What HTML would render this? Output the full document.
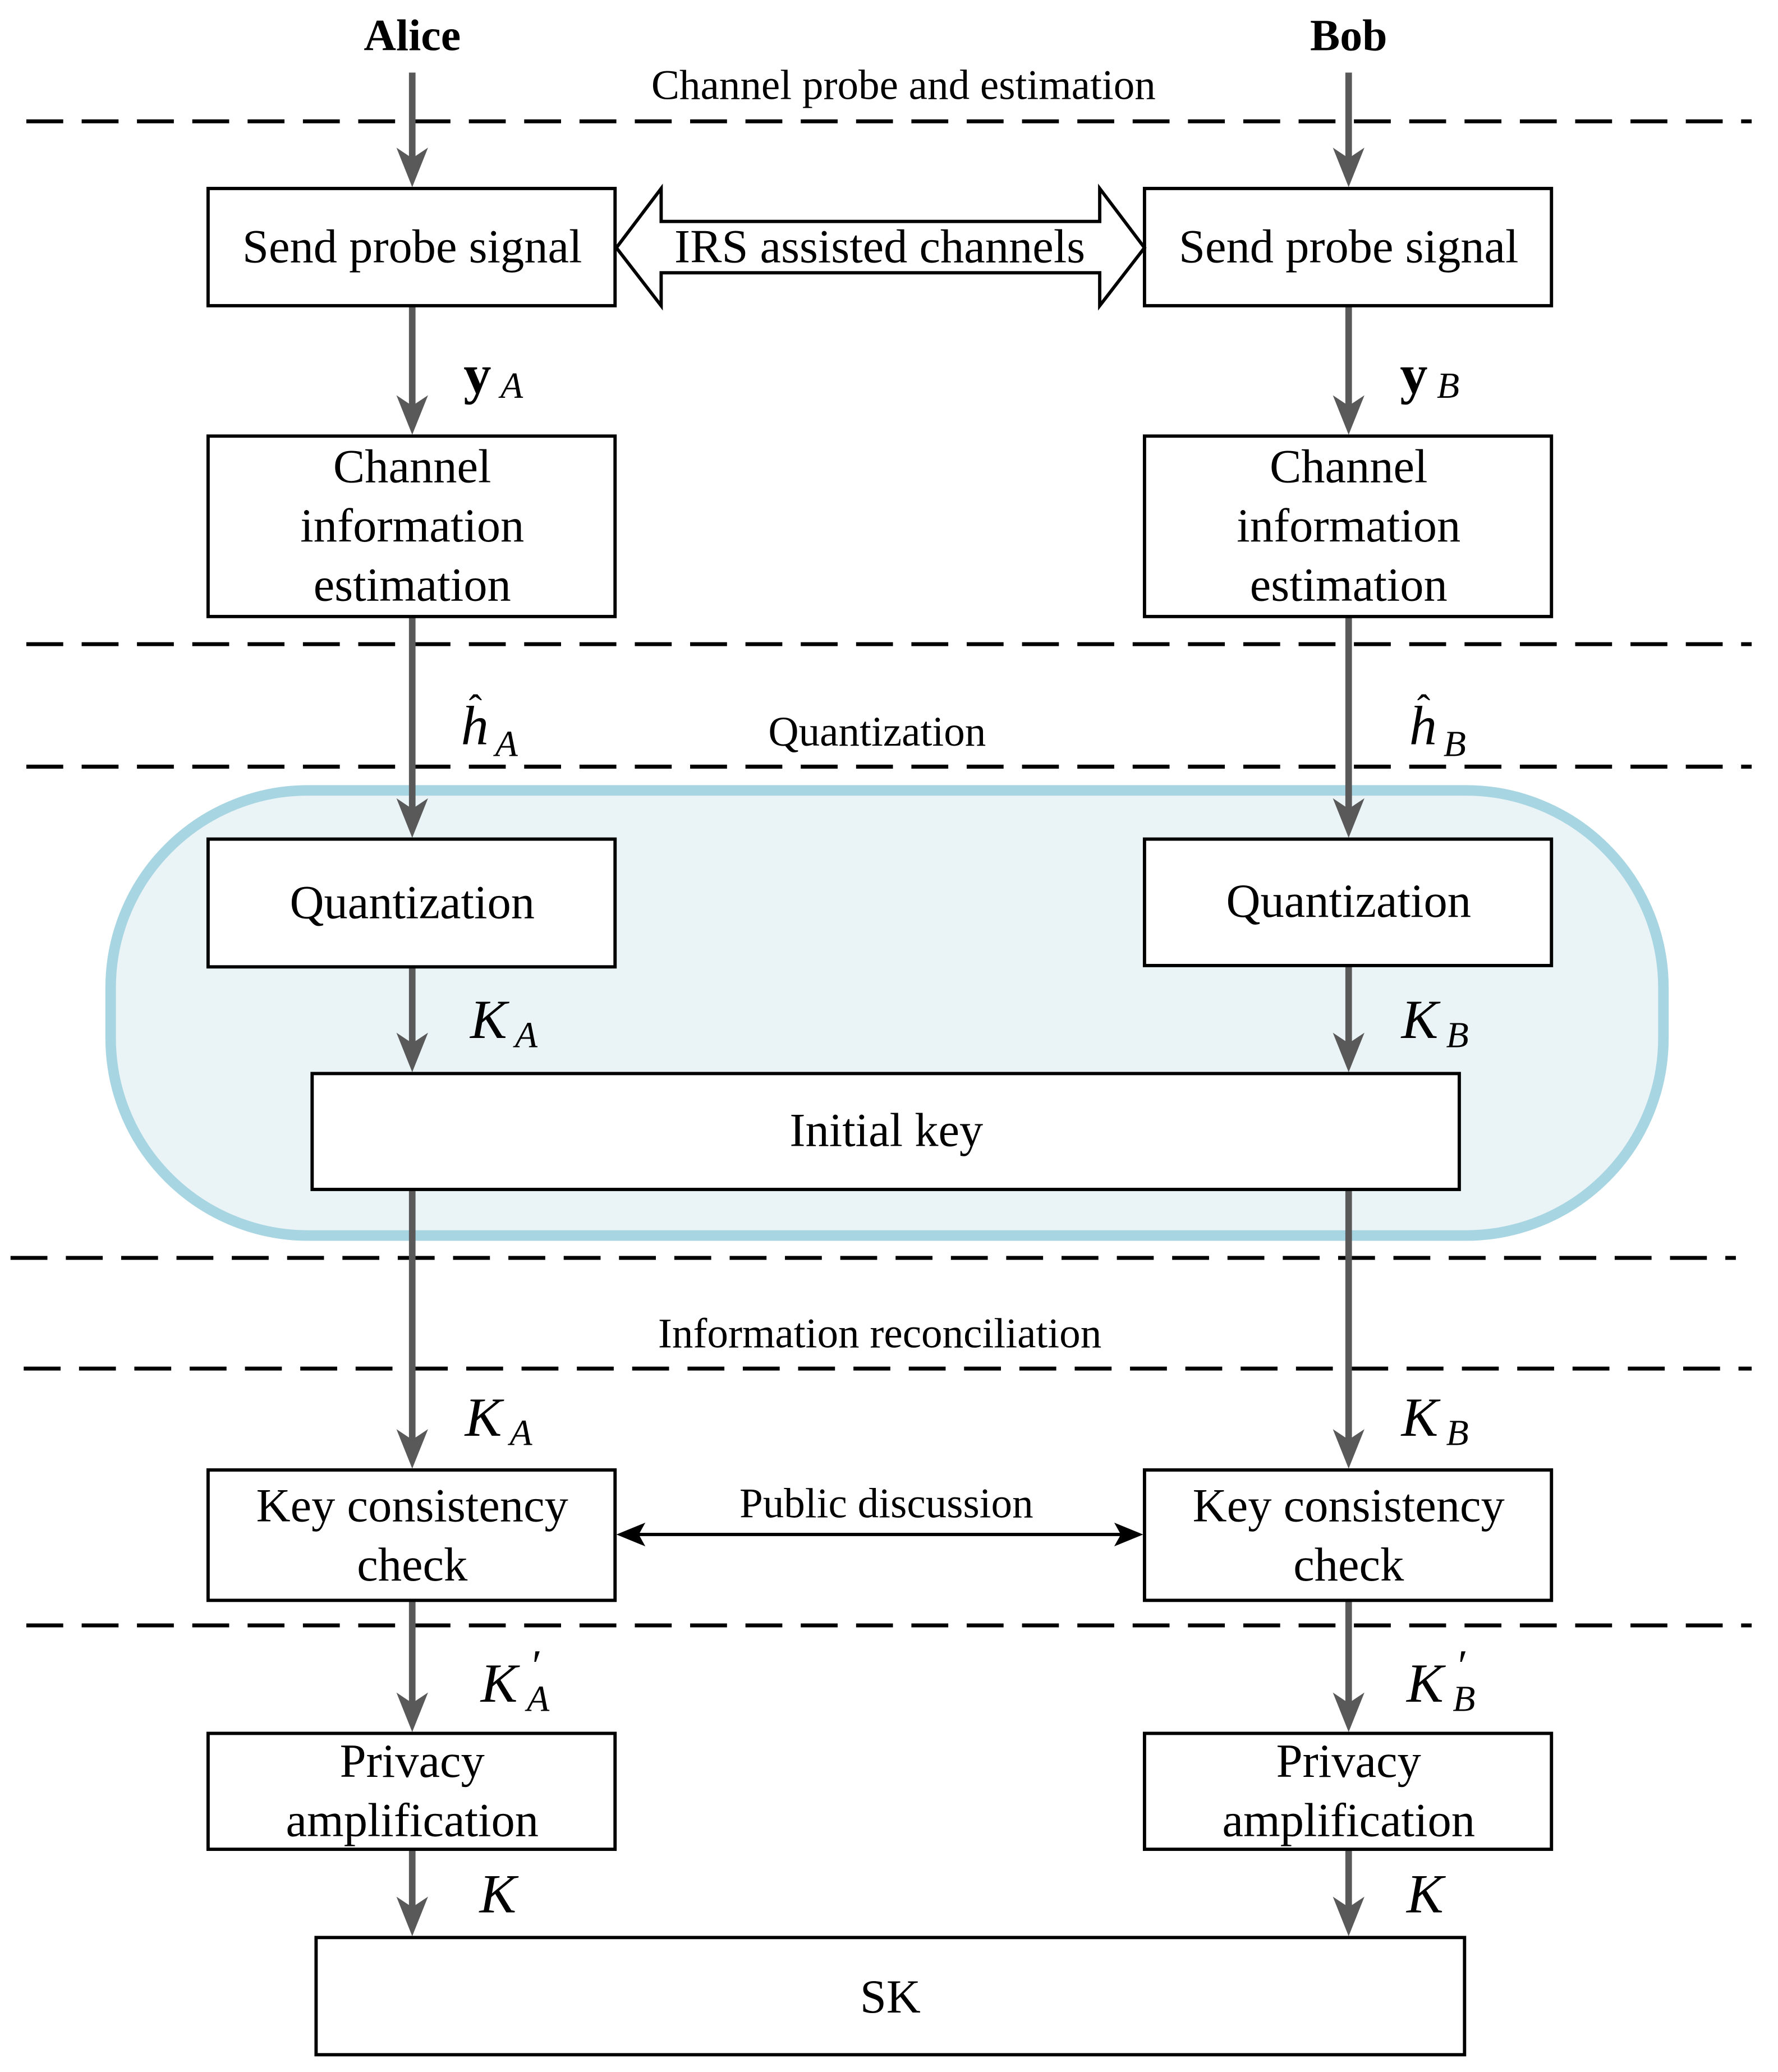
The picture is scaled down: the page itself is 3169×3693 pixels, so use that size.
<!DOCTYPE html>
<html><head><meta charset="utf-8"><style>html,body{margin:0;padding:0;background:#fff}svg{display:block}text{font-family:"Liberation Serif","Times New Roman",serif}</style></head>
<body>
<svg width="3169" height="3693" viewBox="0 0 1350 1573" xmlns="http://www.w3.org/2000/svg">
<rect width="1350" height="1573" fill="#fff"/>
<rect x="84" y="600" width="1179" height="338" rx="150" fill="#eaf3f6" stroke="#a8d5e2" stroke-width="8"/>
<g stroke="#000" stroke-width="3" stroke-dasharray="28,14">
<line x1="20" y1="92" x2="1330" y2="92"/>
<line x1="20" y1="489" x2="1330" y2="489"/>
<line x1="20" y1="582" x2="1330" y2="582"/>
<line x1="8" y1="955" x2="1318" y2="955"/>
<line x1="18" y1="1039" x2="1330" y2="1039"/>
<line x1="20" y1="1234" x2="1330" y2="1234"/>
</g>
<g stroke="#595959" stroke-width="5">
<line x1="313" y1="55" x2="313" y2="125"/><line x1="1024" y1="55" x2="1024" y2="125"/>
<line x1="313" y1="232" x2="313" y2="313"/><line x1="1024" y1="232" x2="1024" y2="313"/>
<line x1="313" y1="468" x2="313" y2="619"/><line x1="1024" y1="468" x2="1024" y2="619"/>
<line x1="313" y1="734" x2="313" y2="797"/><line x1="1024" y1="734" x2="1024" y2="797"/>
<line x1="313" y1="903" x2="313" y2="1098"/><line x1="1024" y1="903" x2="1024" y2="1098"/>
<line x1="313" y1="1215" x2="313" y2="1298"/><line x1="1024" y1="1215" x2="1024" y2="1298"/>
<line x1="313" y1="1404" x2="313" y2="1453"/><line x1="1024" y1="1404" x2="1024" y2="1453"/>
</g>
<g fill="#595959">
<path d="M301,112 L313,142 L325,112 L313,120 Z"/><path d="M1012,112 L1024,142 L1036,112 L1024,120 Z"/>
<path d="M301,300 L313,330 L325,300 L313,308 Z"/><path d="M1012,300 L1024,330 L1036,300 L1024,308 Z"/>
<path d="M301,606 L313,636 L325,606 L313,614 Z"/><path d="M1012,606 L1024,636 L1036,606 L1024,614 Z"/>
<path d="M301,784 L313,814 L325,784 L313,792 Z"/><path d="M1012,784 L1024,814 L1036,784 L1024,792 Z"/>
<path d="M301,1085 L313,1115 L325,1085 L313,1093 Z"/><path d="M1012,1085 L1024,1115 L1036,1085 L1024,1093 Z"/>
<path d="M301,1285 L313,1315 L325,1285 L313,1293 Z"/><path d="M1012,1285 L1024,1315 L1036,1285 L1024,1293 Z"/>
<path d="M301,1440 L313,1470 L325,1440 L313,1448 Z"/><path d="M1012,1440 L1024,1470 L1036,1440 L1024,1448 Z"/>
</g>
<g fill="#fff" stroke="#000" stroke-width="2.5">
<rect x="158" y="143" width="309" height="89"/>
<rect x="869" y="143" width="309" height="89"/>
<rect x="158" y="331" width="309" height="137"/>
<rect x="869" y="331" width="309" height="137"/>
<rect x="158" y="637" width="309" height="97"/>
<rect x="869" y="637" width="309" height="96"/>
<rect x="237" y="815" width="871" height="88"/>
<rect x="158" y="1116" width="309" height="99"/>
<rect x="869" y="1116" width="309" height="99"/>
<rect x="158" y="1316" width="309" height="88"/>
<rect x="869" y="1316" width="309" height="88"/>
<rect x="240" y="1471" width="872" height="89"/>
<path d="M468,188 L502,143 L502,168 L835,168 L835,143 L869,188 L835,232 L835,207 L502,207 L502,232 Z"/>
</g>
<line x1="480" y1="1165" x2="856" y2="1165" stroke="#000" stroke-width="2.5"/>
<path d="M468,1165 L490,1156 L485,1165 L490,1174 Z M868,1165 L846,1156 L851,1165 L846,1174 Z" fill="#000"/>
<g font-size="36" text-anchor="middle" fill="#000">
<text x="313" y="38" font-weight="bold" font-size="34">Alice</text>
<text x="1024" y="38" font-weight="bold" font-size="34">Bob</text>
<text x="686" y="75" font-size="32">Channel probe and estimation</text>
<text x="313" y="199">Send probe signal</text>
<text x="1024" y="199">Send probe signal</text>
<text x="668" y="199">IRS assisted channels</text>
<text x="313" y="366">Channel</text><text x="313" y="411">information</text><text x="313" y="456">estimation</text>
<text x="1024" y="366">Channel</text><text x="1024" y="411">information</text><text x="1024" y="456">estimation</text>
<text x="666" y="566" font-size="32">Quantization</text>
<text x="313" y="697">Quantization</text>
<text x="1024" y="696">Quantization</text>
<text x="673" y="870">Initial key</text>
<text x="668" y="1023" font-size="32">Information reconciliation</text>
<text x="313" y="1155">Key consistency</text><text x="313" y="1200">check</text>
<text x="1024" y="1155">Key consistency</text><text x="1024" y="1200">check</text>
<text x="673" y="1152" font-size="32">Public discussion</text>
<text x="313" y="1349">Privacy</text><text x="313" y="1394">amplification</text>
<text x="1024" y="1349">Privacy</text><text x="1024" y="1394">amplification</text>
<text x="676" y="1528">SK</text>
</g>
<g fill="#000" font-size="42" font-style="italic">
<text x="352" y="298" font-style="normal" font-weight="bold">y</text><text x="380" y="302" font-size="28">A</text>
<text x="1063" y="298" font-style="normal" font-weight="bold">y</text><text x="1091" y="302" font-size="28">B</text>
<text x="350" y="565">h</text><text x="376" y="574" font-size="28">A</text>
<text x="356" y="548" font-style="normal" font-size="30">ˆ</text>
<text x="1070" y="565">h</text><text x="1096" y="574" font-size="28">B</text>
<text x="1076" y="548" font-style="normal" font-size="30">ˆ</text>
<text x="357" y="788">K</text><text x="391" y="795" font-size="28">A</text>
<text x="1064" y="788">K</text><text x="1098" y="795" font-size="28">B</text>
<text x="353" y="1090">K</text><text x="387" y="1097" font-size="28">A</text>
<text x="1064" y="1090">K</text><text x="1098" y="1097" font-size="28">B</text>
<text x="365" y="1292">K</text><text x="400" y="1299" font-size="28">A</text><text x="404" y="1276" font-size="34" font-style="normal">′</text>
<text x="1068" y="1292">K</text><text x="1103" y="1299" font-size="28">B</text><text x="1107" y="1276" font-size="34" font-style="normal">′</text>
<text x="364" y="1452">K</text>
<text x="1068" y="1452">K</text>
</g>
</svg>
</body></html>
